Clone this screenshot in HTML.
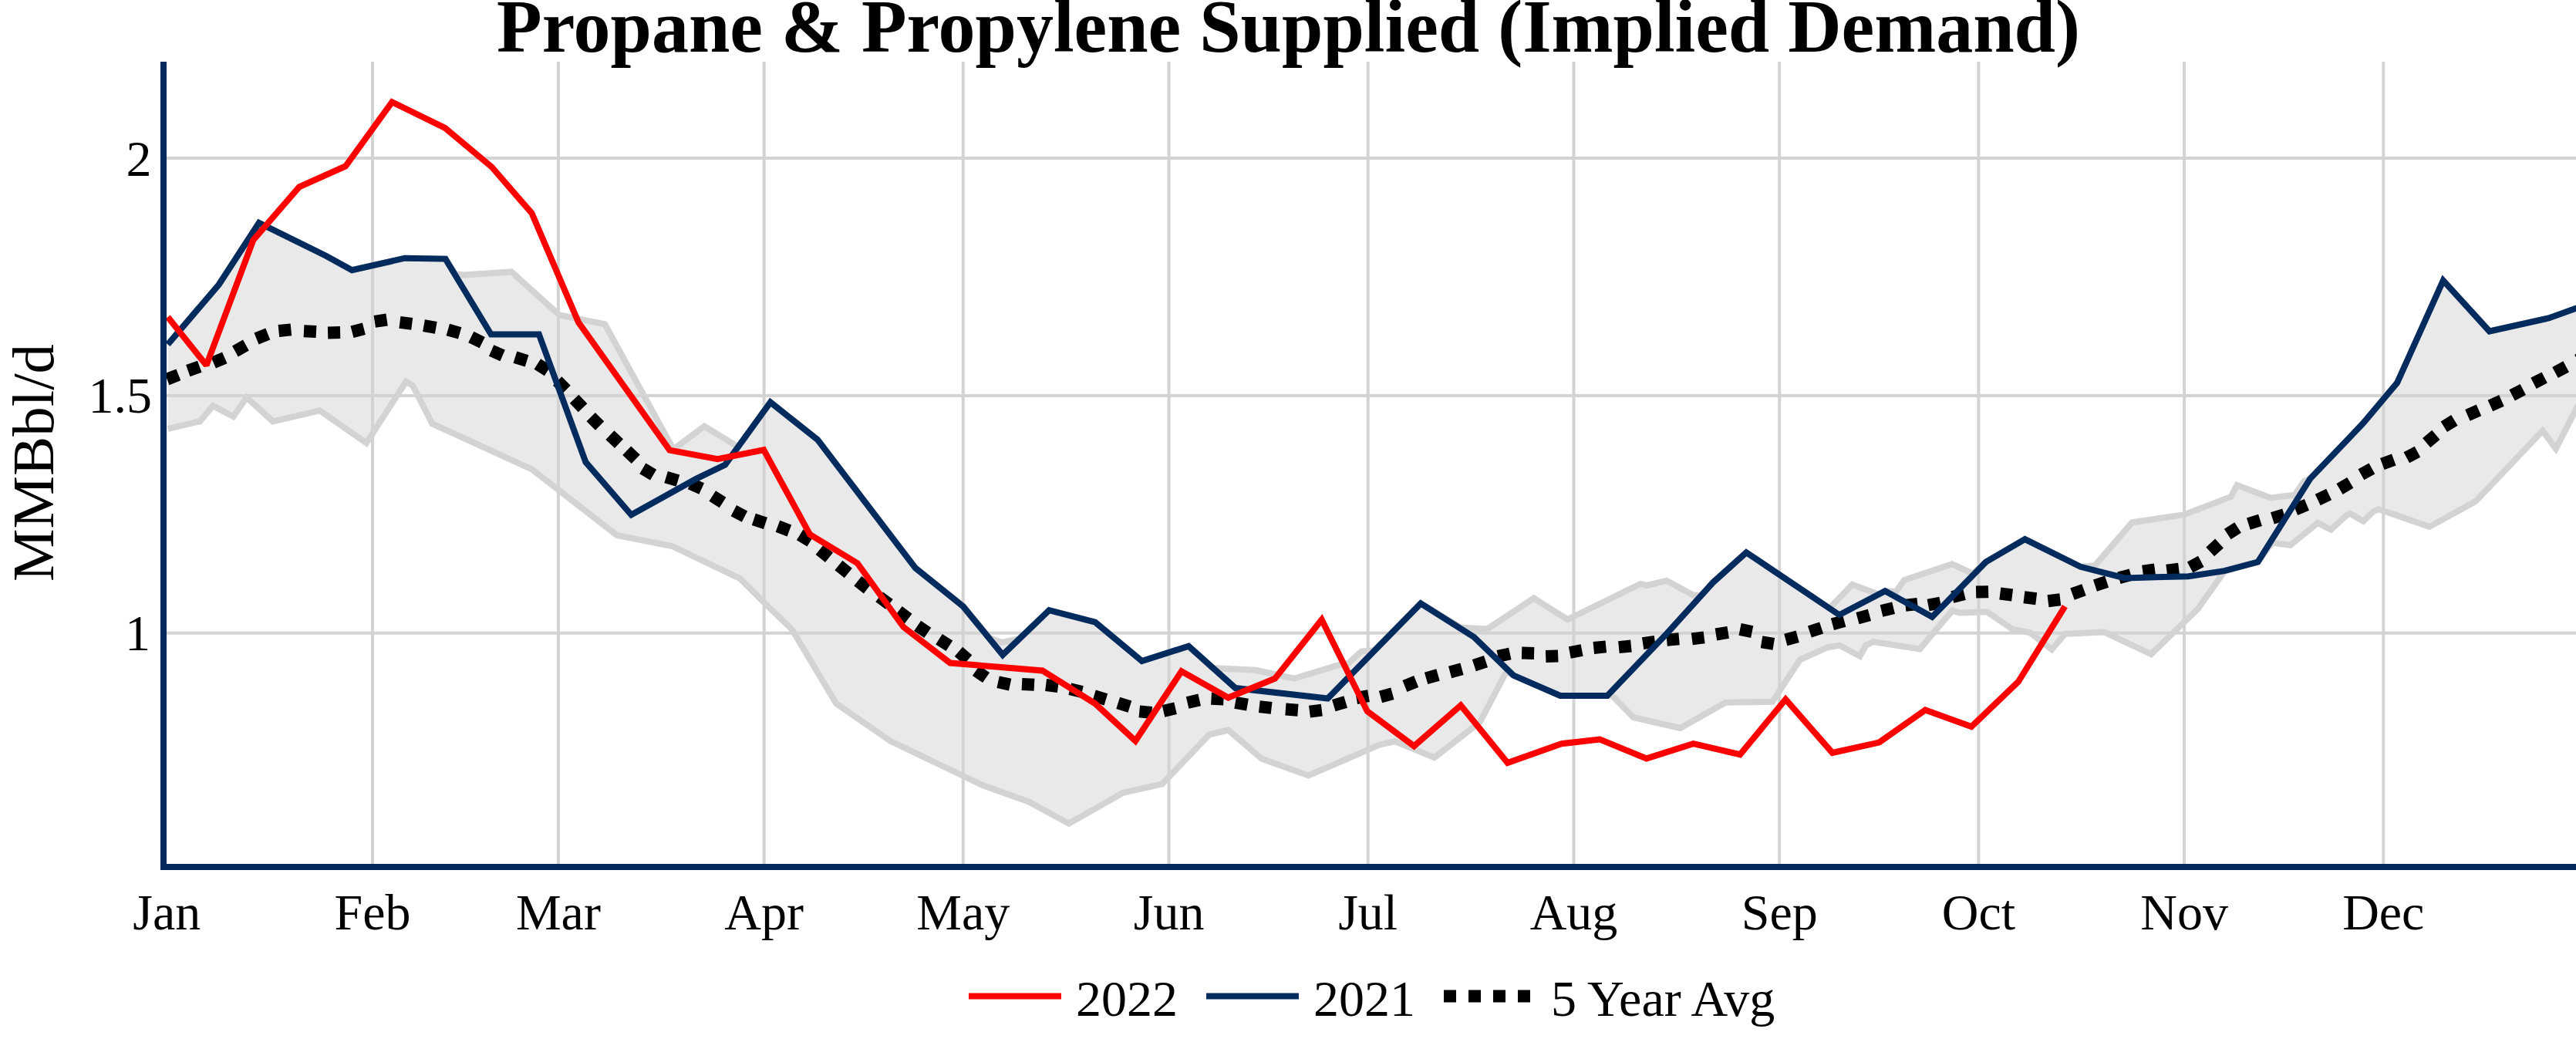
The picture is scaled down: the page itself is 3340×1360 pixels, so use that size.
<!DOCTYPE html>
<html><head><meta charset="utf-8"><title>Propane &amp; Propylene Supplied (Implied Demand)</title>
<style>
html,body{margin:0;padding:0;background:#fff;}
body{width:3340px;height:1360px;overflow:hidden;}
svg{display:block;font-family:"Liberation Serif",serif;}
</style></head><body>
<svg width="3340" height="1360" viewBox="0 0 3340 1360">
<rect width="3340" height="1360" fill="#fff"/>
<defs><clipPath id="plot"><rect x="216" y="80" width="3124" height="1040"/></clipPath></defs>

<g stroke="#d3d3d3" stroke-width="4">
<line x1="483.0" y1="80" x2="483.0" y2="1120"/>
<line x1="723.9" y1="80" x2="723.9" y2="1120"/>
<line x1="990.7" y1="80" x2="990.7" y2="1120"/>
<line x1="1248.8" y1="80" x2="1248.8" y2="1120"/>
<line x1="1515.6" y1="80" x2="1515.6" y2="1120"/>
<line x1="1773.7" y1="80" x2="1773.7" y2="1120"/>
<line x1="2040.5" y1="80" x2="2040.5" y2="1120"/>
<line x1="2307.2" y1="80" x2="2307.2" y2="1120"/>
<line x1="2565.4" y1="80" x2="2565.4" y2="1120"/>
<line x1="2832.1" y1="80" x2="2832.1" y2="1120"/>
<line x1="3090.3" y1="80" x2="3090.3" y2="1120"/>
<line x1="216" y1="205.0" x2="3340" y2="205.0"/>
<line x1="216" y1="512.9" x2="3340" y2="512.9"/>
<line x1="216" y1="820.8" x2="3340" y2="820.8"/>
</g>
<g clip-path="url(#plot)">
<polygon points="217.6,446.5 283.9,368.8 335.8,289.0 422.2,331.5 456.4,350.2 524.8,334.7 577.6,335.6 590.0,355.0 601.0,356.4 663.1,352.4 725.3,408.5 784.3,420.3 873.0,582.5 913.3,552.5 957.1,579.5 998.9,521.5 1060.1,570.1 1186.9,736.4 1248.7,785.5 1283.0,827.0 1299.0,833.0 1322.0,828.0 1360.3,791.1 1420.0,806.6 1480.6,857.0 1541.2,837.7 1572.0,866.0 1628.2,868.8 1678.0,879.7 1733.9,862.6 1748.0,860.1 1765.1,844.5 1782.0,843.0 1842.1,782.4 1894.0,813.4 1928.2,815.6 1988.8,775.5 2032.4,803.2 2127.1,756.9 2134.9,759.1 2160.7,752.8 2195.5,771.5 2206.0,771.9 2221.0,755.2 2264.2,716.2 2372.0,788.5 2401.6,757.9 2436.0,770.6 2444.2,766.2 2458.5,767.0 2468.8,752.1 2531.0,731.2 2558.0,743.6 2574.8,728.6 2625.5,699.1 2697.6,734.8 2716.2,733.2 2764.4,677.3 2831.2,667.4 2892.8,643.9 2900.5,629.0 2944.0,645.5 2975.1,641.7 2987.5,624.0 2995.3,620.6 3063.7,549.1 3108.1,496.3 3167.8,363.6 3227.8,429.5 3304.6,412.4 3348.0,397.0 3348.0,515.0 3313.9,581.7 3296.8,558.4 3209.8,650.1 3149.8,682.9 3084.5,660.2 3076.7,663.3 3064.3,675.7 3047.2,665.8 3042.5,668.0 3022.3,686.6 3005.2,677.9 2969.5,706.8 2946.2,703.7 2927.5,728.6 2884.0,741.0 2849.9,789.2 2789.2,848.2 2728.6,819.6 2677.4,821.8 2660.3,842.0 2632.3,820.3 2609.0,815.6 2576.3,793.2 2540.6,794.5 2531.3,791.7 2489.2,841.4 2428.6,832.1 2419.3,836.8 2411.5,850.7 2385.1,836.8 2369.6,839.2 2333.8,855.4 2298.1,909.8 2237.5,910.7 2178.4,944.0 2117.8,930.0 2090.0,901.5 2084.0,902.0 2023.0,902.0 1962.4,875.6 1953.1,870.9 1918.9,936.2 1859.9,982.2 1808.6,961.1 1788.4,965.7 1696.6,1005.5 1636.0,983.8 1592.5,946.5 1567.6,952.7 1507.0,1016.4 1455.7,1027.9 1385.8,1067.7 1334.5,1039.7 1273.9,1018.0 1154.3,960.5 1084.3,912.3 1026.8,815.9 991.0,781.5 960.0,750.4 871.3,708.0 799.8,693.9 689.5,608.4 560.5,549.4 535.0,499.7 526.3,495.0 475.1,574.3 414.5,532.3 353.8,546.3 319.7,515.2 302.6,540.1 276.1,526.1 259.1,546.3 217.6,555.8" fill="#d3d3d3" fill-opacity="0.5" stroke="none"/>
<polyline points="217.6,555.8 259.1,546.3 276.1,526.1 302.6,540.1 319.7,515.2 353.8,546.3 414.5,532.3 475.1,574.3 526.3,495.0 535.0,499.7 560.5,549.4 689.5,608.4 799.8,693.9 871.3,708.0 960.0,750.4 991.0,781.5 1026.8,815.9 1084.3,912.3 1154.3,960.5 1273.9,1018.0 1334.5,1039.7 1385.8,1067.7 1455.7,1027.9 1507.0,1016.4 1567.6,952.7 1592.5,946.5 1636.0,983.8 1696.6,1005.5 1788.4,965.7 1808.6,961.1 1859.9,982.2 1918.9,936.2 1953.1,870.9 1962.4,875.6 2023.0,902.0 2084.0,902.0 2090.0,901.5 2117.8,930.0 2178.4,944.0 2237.5,910.7 2298.1,909.8 2333.8,855.4 2369.6,839.2 2385.1,836.8 2411.5,850.7 2419.3,836.8 2428.6,832.1 2489.2,841.4 2531.3,791.7 2540.6,794.5 2576.3,793.2 2609.0,815.6 2632.3,820.3 2660.3,842.0 2677.4,821.8 2728.6,819.6 2789.2,848.2 2849.9,789.2 2884.0,741.0 2927.5,728.6 2946.2,703.7 2969.5,706.8 3005.2,677.9 3022.3,686.6 3042.5,668.0 3047.2,665.8 3064.3,675.7 3076.7,663.3 3084.5,660.2 3149.8,682.9 3209.8,650.1 3296.8,558.4 3313.9,581.7 3348.0,515.0" fill="none" stroke="#d3d3d3" stroke-width="8" stroke-linejoin="miter" stroke-miterlimit="2"/>
<polyline points="217.6,446.5 283.9,368.8 335.8,289.0 422.2,331.5 456.4,350.2 524.8,334.7 577.6,335.6 590.0,355.0 601.0,356.4 663.1,352.4 725.3,408.5 784.3,420.3 873.0,582.5 913.3,552.5 957.1,579.5 998.9,521.5 1060.1,570.1 1186.9,736.4 1248.7,785.5 1283.0,827.0 1299.0,833.0 1322.0,828.0 1360.3,791.1 1420.0,806.6 1480.6,857.0 1541.2,837.7 1572.0,866.0 1628.2,868.8 1678.0,879.7 1733.9,862.6 1748.0,860.1 1765.1,844.5 1782.0,843.0 1842.1,782.4 1894.0,813.4 1928.2,815.6 1988.8,775.5 2032.4,803.2 2127.1,756.9 2134.9,759.1 2160.7,752.8 2195.5,771.5 2206.0,771.9 2221.0,755.2 2264.2,716.2 2372.0,788.5 2401.6,757.9 2436.0,770.6 2444.2,766.2 2458.5,767.0 2468.8,752.1 2531.0,731.2 2558.0,743.6 2574.8,728.6 2625.5,699.1 2697.6,734.8 2716.2,733.2 2764.4,677.3 2831.2,667.4 2892.8,643.9 2900.5,629.0 2944.0,645.5 2975.1,641.7 2987.5,624.0 2995.3,620.6 3063.7,549.1 3108.1,496.3 3167.8,363.6 3227.8,429.5 3304.6,412.4 3348.0,397.0" fill="none" stroke="#d3d3d3" stroke-width="8" stroke-linejoin="miter" stroke-miterlimit="2"/>
<path d="M186.5 503.4L201.5 497.6M216.6 491.7L231.4 485.9M243.8 480.6L258.8 475.2M276.7 470.2L291.3 463.8M304.9 455.4L318.9 447.6M332.5 439.0L347.3 433.0M361.4 429.0L377.4 427.4M394.0 429.3L410.0 430.1M425.1 431.5L441.1 431.1M456.5 430.2L471.9 426.2M485.8 416.9L501.6 414.5M518.4 417.9L534.2 419.9M549.5 422.1L565.3 424.9M580.8 427.5L596.2 431.9M610.8 437.0L625.2 444.2M637.1 454.5L651.7 460.9M667.9 463.1L683.1 467.9M696.8 472.0L710.2 480.6M722.7 494.0L734.1 505.4M744.6 517.2L755.6 528.8M766.2 540.6L777.6 552.0M790.9 564.1L802.5 575.1M812.7 584.3L824.3 595.3M833.3 607.4L847.1 615.6M863.6 618.6L879.0 623.2M895.1 626.9L909.7 633.5M923.7 643.0L937.1 651.6M951.3 662.2L965.5 669.6M977.3 673.3L992.5 678.3M1008.4 682.3L1023.4 687.9M1037.1 693.4L1050.7 701.8M1062.6 712.8L1075.0 722.8M1087.4 733.0L1099.8 743.0M1112.2 753.3L1124.8 763.1M1140.1 773.8L1152.9 783.4M1164.9 792.5L1177.7 802.1M1189.6 811.4L1202.8 820.4M1217.5 828.7L1230.9 837.3M1242.9 844.9L1255.1 855.3M1265.4 869.5L1278.6 878.5M1294.1 884.2L1309.7 887.6M1325.0 887.0L1341.0 887.8M1356.1 888.0L1371.9 890.0M1387.3 893.3L1402.9 897.1M1418.5 902.2L1433.9 906.8M1449.7 911.4L1464.9 916.2M1477.3 922.4L1493.3 924.0M1508.5 921.9L1524.1 918.3M1539.6 911.0L1555.2 907.4M1570.5 905.7L1586.5 906.5M1601.7 910.9L1617.5 913.7M1632.8 916.1L1648.6 917.9M1666.9 919.5L1682.9 920.7M1698.0 922.6L1713.8 920.6M1729.3 914.6L1744.7 910.0M1758.7 905.0L1774.5 902.2M1790.0 903.5L1805.4 899.3M1821.4 889.5L1836.2 883.5M1849.1 879.4L1864.5 875.0M1880.1 871.5L1895.5 867.3M1911.3 862.6L1926.5 857.6M1942.2 850.9L1957.8 847.5M1973.1 846.5L1989.1 846.9M2004.2 851.0L2020.2 850.4M2035.3 846.0L2051.1 843.0M2066.3 840.0L2082.3 838.4M2098.9 839.1L2114.9 837.5M2130.1 834.2L2145.9 831.8M2161.1 829.7L2177.1 828.3M2193.8 828.4L2209.6 826.4M2224.9 822.5L2240.7 819.9M2256.1 815.9L2271.7 819.1M2284.0 832.3L2299.8 834.9M2315.3 829.5L2330.7 825.3M2346.4 819.0L2361.6 814.0M2375.9 809.3L2391.3 805.1M2408.5 801.6L2423.9 797.4M2439.5 792.0L2455.1 788.2M2470.5 784.8L2486.3 783.0M2500.1 784.5L2515.9 781.5M2531.3 774.0L2546.9 770.2M2562.1 767.6L2578.1 767.2M2593.3 769.5L2609.1 771.5M2624.4 774.2L2640.2 776.2M2655.5 779.3L2671.3 777.3M2687.0 770.1L2702.0 764.7M2716.4 759.1L2731.6 754.1M2747.4 749.3L2762.8 745.1M2778.2 740.6L2794.0 738.4M2809.3 739.8L2825.1 737.8M2839.6 735.5L2853.8 727.9M2865.7 715.3L2877.5 704.5M2888.2 692.5L2901.6 683.9M2915.3 679.1L2930.5 674.3M2946.4 671.9L2961.6 667.1M2976.1 660.6L2990.9 654.4M3005.2 648.0L3019.6 641.0M3033.5 634.0L3047.3 625.8M3061.4 615.2L3075.4 607.4M3088.8 601.6L3103.8 596.0M3120.3 593.3L3134.5 585.7M3146.2 574.1L3158.4 563.9M3168.8 553.3L3182.4 544.9M3199.4 538.3L3214.0 531.9M3228.9 526.0L3243.5 519.4M3257.1 512.4L3271.3 505.0M3285.0 496.9L3299.2 489.5M3313.0 483.0L3327.2 475.4M3342.0 466.9L3356.0 459.1" fill="none" stroke="#000" stroke-width="16"/>
<polyline points="217.6,446.5 283.9,368.8 335.8,289.0 422.2,331.5 456.4,350.2 524.8,334.7 577.6,335.6 636.7,433.5 698.8,433.5 759.4,599.1 818.5,667.5 902.4,620.9 940.2,602.6 998.9,521.5 1060.1,570.1 1186.9,736.4 1248.7,786.1 1300.1,849.0 1360.3,791.1 1420.0,806.6 1480.6,857.0 1541.2,837.7 1601.8,892.1 1721.5,905.5 1842.1,782.4 1911.1,825.9 1962.4,875.6 2023.0,902.0 2084.0,902.0 2161.5,821.0 2221.0,755.2 2264.2,716.2 2384.8,797.2 2444.2,766.2 2505.2,799.8 2574.8,728.6 2625.5,699.1 2697.6,734.8 2755.1,749.4 2837.4,747.2 2884.0,740.1 2927.5,728.6 2995.3,620.6 3063.7,549.1 3108.1,496.3 3167.8,363.6 3227.8,429.5 3304.6,412.4 3348.0,397.0" fill="none" stroke="#032b5e" stroke-width="8" stroke-linejoin="miter" stroke-miterlimit="2"/>
<polyline points="217.6,411.0 267.6,473.6 328.3,311.4 388.0,242.3 448.0,215.5 508.3,132.3 577.0,166.0 637.6,216.5 689.5,276.5 750.1,418.0 809.5,501.2 868.2,583.6 930.4,595.1 990.3,583.3 1050.1,692.9 1111.7,730.2 1171.3,812.8 1231.9,859.5 1292.0,864.5 1351.6,869.4 1420.0,912.3 1472.2,960.5 1531.9,870.3 1592.5,904.5 1653.1,879.7 1713.7,803.5 1772.8,922.2 1833.4,967.3 1894.0,914.5 1954.7,989.0 2024.6,964.2 2074.3,958.6 2134.9,983.4 2195.5,964.2 2256.1,978.2 2315.2,906.7 2375.8,976.0 2436.4,962.6 2496.3,920.5 2556.1,942.1 2616.8,884.0 2677.4,786.1" fill="none" stroke="#ff0000" stroke-width="8" stroke-linejoin="miter" stroke-miterlimit="2"/>
</g>
<rect x="208" y="80" width="8" height="1048" fill="#032b5e"/>
<rect x="208" y="1120" width="3132" height="8" fill="#032b5e"/>
<g font-size="66" fill="#000">
<text x="216.2" y="1205" text-anchor="middle">Jan</text>
<text x="483.0" y="1205" text-anchor="middle">Feb</text>
<text x="723.9" y="1205" text-anchor="middle">Mar</text>
<text x="990.7" y="1205" text-anchor="middle">Apr</text>
<text x="1248.8" y="1205" text-anchor="middle">May</text>
<text x="1515.6" y="1205" text-anchor="middle">Jun</text>
<text x="1773.7" y="1205" text-anchor="middle">Jul</text>
<text x="2040.5" y="1205" text-anchor="middle">Aug</text>
<text x="2307.2" y="1205" text-anchor="middle">Sep</text>
<text x="2565.4" y="1205" text-anchor="middle">Oct</text>
<text x="2832.1" y="1205" text-anchor="middle">Nov</text>
<text x="3090.3" y="1205" text-anchor="middle">Dec</text>
<text x="196.5" y="227.5" text-anchor="end">2</text>
<text x="197" y="535.4" text-anchor="end">1.5</text>
<text x="195" y="843.3" text-anchor="end">1</text>
</g>
<text transform="translate(68.5,600) rotate(-90)" font-size="77" text-anchor="middle" fill="#000">MMBbl/d</text>
<text transform="translate(1670.5,66.7) scale(0.99,1)" font-size="97" font-weight="bold" text-anchor="middle" fill="#000">Propane &amp; Propylene Supplied (Implied Demand)</text>
<g font-size="66" fill="#000">
<line x1="1256" y1="1291.5" x2="1376" y2="1291.5" stroke="#ff0000" stroke-width="8"/><text x="1395" y="1317">2022</text>
<line x1="1564" y1="1291.5" x2="1684" y2="1291.5" stroke="#032b5e" stroke-width="8"/><text x="1703" y="1317">2021</text>
<line x1="1872" y1="1291.5" x2="1992" y2="1291.5" stroke="#000" stroke-width="16" stroke-dasharray="16,16"/><text x="2011" y="1317">5 Year Avg</text>
</g>
</svg></body></html>
